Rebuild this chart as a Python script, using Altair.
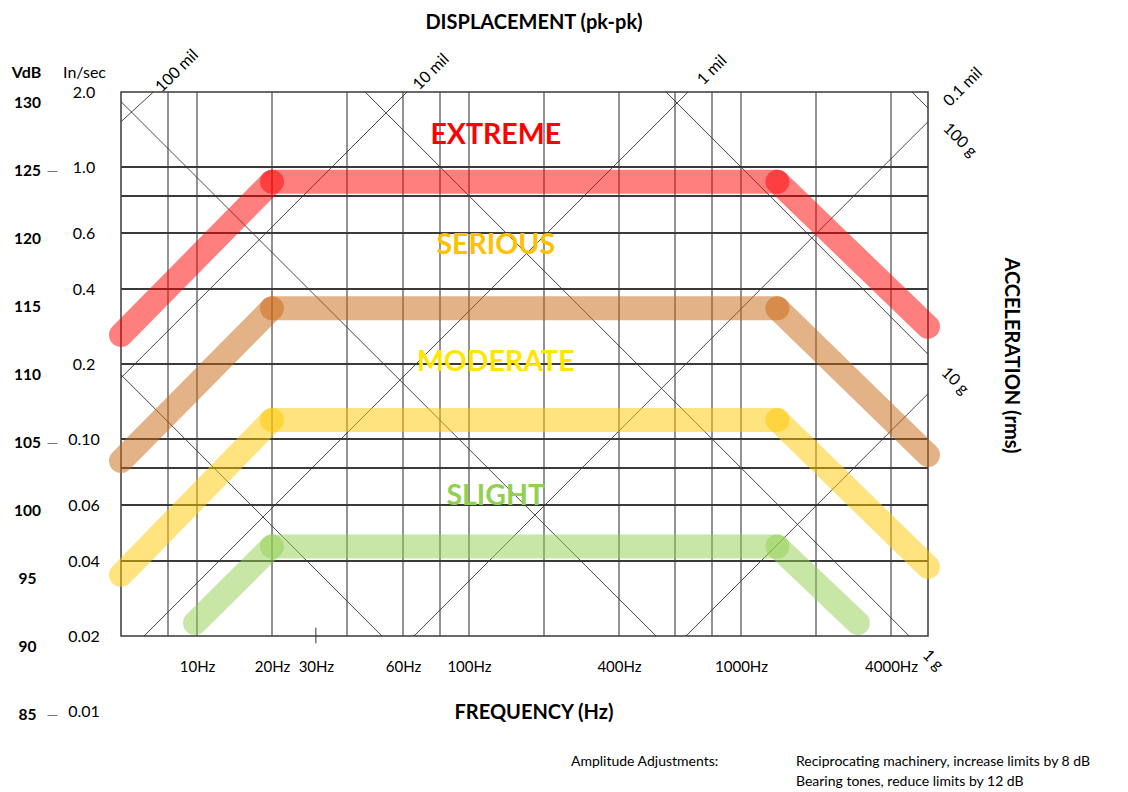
import altair as alt
import pandas as pd

FONT = "Lato"

# ---------------- data ----------------
grid_freqs = [8, 10, 20, 40, 60, 80, 100, 200, 400, 600, 800, 1000, 2000, 4000]
grid_vels = [1.0, 0.8, 0.6, 0.4, 0.2, 0.1, 0.08, 0.06, 0.04]

freq_tick_values = [10, 20, 30, 60, 100, 400, 1000, 4000]
vel_tick_values = [2.0, 1.0, 0.6, 0.4, 0.2, 0.1, 0.06, 0.04, 0.02, 0.01]
vel_tick_labels = ["2.0", "1.0", "0.6", "0.4", "0.2", "0.10", "0.06", "0.04", "0.02", "0.01"]
vdb_values = [130, 125, 120, 115, 110, 105, 100, 95, 90, 85]
vdb_dashed = [125, 105, 85]

marker_freq = [30]
marker_vel_top = [0.0216]
marker_vel_bottom = [0.0187]

# constant displacement (pk-pk) lines: end points (frequency Hz, velocity in/sec)
disp_names = ["100 mil", "10 mil", "1 mil", "0.1 mil", "0.01 mil"]
disp_f1 = [5.6, 5.6, 6.67, 65.4, 654]
disp_v1 = [1.52, 0.176, 0.02, 0.02, 0.02]
disp_f2 = [7.16, 61.9, 664, 5200, 5200]
disp_v2 = [2.0, 2.0, 2.0, 1.52, 0.152]

# constant acceleration lines
acc_names = ["0.01 g", "0.1 g", "1 g", "10 g", "100 g"]
acc_f1 = [5.6, 5.6, 45.6, 562, 4640]
acc_v1 = [0.181, 1.83, 2.0, 2.0, 2.0]
acc_f2 = [51.5, 523, 4550, 5200, 5200]
acc_v2 = [0.02, 0.02, 0.02, 0.219, 1.725]

disp_label_text = ["100 mil", "10 mil", "1 mil", "0.1 mil"]
disp_label_f = [8.57, 74.6, 800, 6665]
disp_label_v = [2.43, 2.41, 2.45, 2.094]

acc_label_text = ["100 g", "10 g", "1 g"]
acc_label_f = [6525, 6300, 5390]
acc_label_v = [1.283, 0.171, 0.016]

# severity limit bands (break points)
band_names = ["extreme", "serious", "moderate", "slight"]
band_colors = ["#FF0000", "#C9650F", "#FFC800", "#92D050"]
band_opacity = [0.5, 0.5, 0.5, 0.37]
band_f = [
    [5.6, 20, 1400, 5200],
    [5.6, 20, 1400, 5200],
    [5.6, 20, 1400, 5200],
    [9.85, 20, 1400, 2948],
]
band_v = [
    [0.2615, 0.893, 0.893, 0.2822],
    [0.0844, 0.3347, 0.3347, 0.0884],
    [0.0352, 0.1192, 0.1192, 0.0379],
    [0.02255, 0.0444, 0.0444, 0.02255],
]

zone_names = ["EXTREME", "SERIOUS", "MODERATE", "SLIGHT"]
zone_colors = ["#FF0000", "#FFC000", "#FFE600", "#92D050"]
zone_f = [128, 128, 128, 128]
zone_v = [1.348, 0.549, 0.2028, 0.0642]

note_text = ["Amplitude Adjustments:",
             "Reciprocating machinery, increase limits by 8 dB",
             "Bearing tones, reduce limits by 12 dB"]
note_f = [256.6, 1662, 1662]
note_v = [0.00624, 0.00624, 0.00519]

# ---------------- scales (quasi-log grid of the original drawing) ----------------
FREQ_DOMAIN = [5.6, 8, 10, 20, 40, 60, 80, 100, 200, 400, 600, 800, 1000, 2000, 4000, 5200]
FREQ_RANGE = [0, 47, 76, 151, 226, 282, 319, 348, 423, 498, 554, 591, 620, 695, 770, 807]
VEL_DOMAIN = [0.01, 0.02, 0.04, 0.06, 0.08, 0.1, 0.2, 0.4, 0.6, 0.8, 1, 2]
VEL_RANGE = [619, 544, 469, 413, 376, 347, 272, 197, 141, 104, 75, 0]

fscale = alt.Scale(type="log", domain=FREQ_DOMAIN, range=FREQ_RANGE, nice=False)
vscale = alt.Scale(type="log", domain=VEL_DOMAIN, range=VEL_RANGE, nice=False)
dbscale = alt.Scale(type="linear", domain=[85, 130], range=[622.9, 10.8], nice=False, zero=False)

# ---------------- tables ----------------
df_vgrid = pd.DataFrame({"f": grid_freqs})
df_hgrid = pd.DataFrame({"v": grid_vels})
df_vdb = pd.DataFrame({"db": vdb_values})
df_disp = pd.DataFrame({"name": disp_names, "f1": disp_f1, "v1": disp_v1, "f2": disp_f2, "v2": disp_v2})
df_acc = pd.DataFrame({"name": acc_names, "f1": acc_f1, "v1": acc_v1, "f2": acc_f2, "v2": acc_v2})
df_marker = pd.DataFrame({"f": marker_freq, "v1": marker_vel_top, "v2": marker_vel_bottom})

rows = []
for name, fs, vs in zip(band_names, band_f, band_v):
    for i in range(len(fs) - 1):
        for j in (i, i + 1):
            rows.append({"band": name, "seg": f"{name}-{i}", "f": fs[j], "v": vs[j]})
df_bands = pd.DataFrame(rows)

df_zone = pd.DataFrame({"zone": zone_names, "f": zone_f, "v": zone_v})
df_disp_lab = pd.DataFrame({"t": disp_label_text, "f": disp_label_f, "v": disp_label_v})
df_acc_lab = pd.DataFrame({"t": acc_label_text, "f": acc_label_f, "v": acc_label_v})
df_note = pd.DataFrame({"t": note_text, "f": note_f, "v": note_v})

vel_label_expr = " : ".join(
    f"datum.value == {v} ? '{l}'" for v, l in zip(vel_tick_values, vel_tick_labels)
) + " : ''"
dash_test = " || ".join(f"datum.value == {d}" for d in vdb_dashed)

# ---------------- layers ----------------
vgrid = alt.Chart(df_vgrid).mark_rule(color="#4a4a4a", strokeWidth=1.2).encode(
    x=alt.X("f:Q", scale=fscale, axis=alt.Axis(
        orient="bottom", values=freq_tick_values, labelExpr="datum.value + 'Hz'",
        ticks=False, tickSize=0, domain=False, grid=False,
        labelPadding=30, labelBaseline="middle", labelFont=FONT, labelFontSize=15,
        labelColor="#000000", labelOverlap=False, labelFlush=False, labelBound=False,
        title="FREQUENCY (Hz)", titleFont=FONT, titleFontSize=20, titleFontWeight="bold",
        titleColor="#000000", titleX=412.5, titleY=76, titleAlign="center",
        titleBaseline="middle"))
)

hgrid = alt.Chart(df_hgrid).mark_rule(color="#3a3a3a", strokeWidth=1.8).encode(
    y=alt.Y("v:Q", scale=vscale, axis=alt.Axis(
        orient="left", values=vel_tick_values, labelExpr=vel_label_expr,
        ticks=False, tickSize=0, domain=False, grid=False,
        labelPadding=37.5, labelAlign="center", labelBaseline="middle",
        labelFont=FONT, labelFontSize=16, labelColor="#000000",
        labelOverlap=False, labelFlush=False, labelBound=False,
        title="In/sec", titleAngle=0, titleX=-37, titleY=-20, titleAlign="center",
        titleBaseline="middle", titleFont=FONT, titleFontSize=16,
        titleFontWeight="normal", titleColor="#000000"))
)

vdb = alt.Chart(df_vdb).mark_point(opacity=0).encode(
    y=alt.Y("db:Q", scale=dbscale, axis=alt.Axis(
        orient="left", offset=64, values=vdb_values, format="d",
        domain=False, grid=False, ticks=True, tickSize=10, tickColor="#777777",
        tickWidth=1,
        tickOpacity={"condition": {"test": dash_test, "value": 1}, "value": 0},
        labelPadding=20, labelAlign="center", labelBaseline="middle",
        labelFont=FONT, labelFontSize=15.5, labelFontWeight="bold", labelColor="#000000",
        labelOverlap=False, labelFlush=False, labelBound=False,
        title="VdB", titleAngle=0, titleX=-31, titleY=-20, titleAlign="center",
        titleBaseline="middle", titleFont=FONT, titleFontSize=16,
        titleFontWeight="bold", titleColor="#000000"))
)

disp = alt.Chart(df_disp).mark_rule(color="#333333", strokeWidth=0.9).encode(
    x=alt.X("f1:Q", scale=fscale, axis=alt.Axis(
        orient="top", labels=False, ticks=False, domain=False, grid=False,
        title="DISPLACEMENT (pk-pk)", titleFont=FONT, titleFontSize=20,
        titleFontWeight="bold", titleColor="#000000", titleX=412.5, titleY=-70,
        titleAlign="center", titleBaseline="middle")),
    x2="f2:Q",
    y=alt.Y("v1:Q", scale=vscale, axis=None),
    y2="v2:Q",
)

acc = alt.Chart(df_acc).mark_rule(color="#333333", strokeWidth=0.9).encode(
    x=alt.X("f1:Q", scale=fscale, axis=None),
    x2="f2:Q",
    y=alt.Y("v1:Q", scale=vscale, axis=alt.Axis(
        orient="right", labels=False, ticks=False, domain=False, grid=False,
        title="ACCELERATION (rms)", titleFont=FONT, titleFontSize=20,
        titleFontWeight="bold", titleColor="#000000", titleAngle=90,
        titleX=82, titleY=263, titleAlign="center", titleBaseline="middle")),
    y2="v2:Q",
)

marker = alt.Chart(df_marker).mark_rule(color="#333333", strokeWidth=1).encode(
    x=alt.X("f:Q", scale=fscale, axis=None),
    y=alt.Y("v1:Q", scale=vscale, axis=None),
    y2="v2:Q",
)

bands = alt.Chart(df_bands).mark_line(strokeWidth=24, strokeCap="round", strokeJoin="round").encode(
    x=alt.X("f:Q", scale=fscale, axis=None),
    y=alt.Y("v:Q", scale=vscale, axis=None),
    detail="seg:N",
    color=alt.Color("band:N", scale=alt.Scale(domain=band_names, range=band_colors), legend=None),
    opacity=alt.Opacity("band:N", scale=alt.Scale(domain=band_names, range=band_opacity), legend=None),
)

zones = alt.Chart(df_zone).mark_text(font=FONT, fontSize=28.5, fontWeight="bold",
                                     align="center", baseline="middle").encode(
    x=alt.X("f:Q", scale=fscale, axis=None),
    y=alt.Y("v:Q", scale=vscale, axis=None),
    text="zone:N",
    color=alt.Color("zone:N", scale=alt.Scale(domain=zone_names, range=zone_colors), legend=None),
)

disp_lab = alt.Chart(df_disp_lab).mark_text(font=FONT, fontSize=16, angle=315, color="#000000",
                                            align="center", baseline="middle").encode(
    x=alt.X("f:Q", scale=fscale, axis=None),
    y=alt.Y("v:Q", scale=vscale, axis=None),
    text="t:N",
)

acc_lab = alt.Chart(df_acc_lab).mark_text(font=FONT, fontSize=16, angle=45, color="#000000",
                                          align="center", baseline="middle").encode(
    x=alt.X("f:Q", scale=fscale, axis=None),
    y=alt.Y("v:Q", scale=vscale, axis=None),
    text="t:N",
)

notes = alt.Chart(df_note).mark_text(font=FONT, fontSize=14, color="#000000",
                                     align="left", baseline="middle").encode(
    x=alt.X("f:Q", scale=fscale, axis=None),
    y=alt.Y("v:Q", scale=vscale, axis=None),
    text="t:N",
)

chart = alt.layer(
    vgrid, hgrid, vdb, disp, acc, marker, bands, zones, disp_lab, acc_lab, notes
).resolve_scale(
    y="independent", color="independent", opacity="independent"
).resolve_axis(
    x="independent", y="independent"
).properties(
    width=807, height=544,
    autosize=alt.AutoSizeParams(type="none"),
    padding={"left": 121, "top": 92, "right": 200, "bottom": 156},
    background="white",
).configure_view(
    stroke="#3a3a3a", strokeWidth=1.5
)

chart.save("out.html", embed_options={"renderer": "svg", "actions": False})
